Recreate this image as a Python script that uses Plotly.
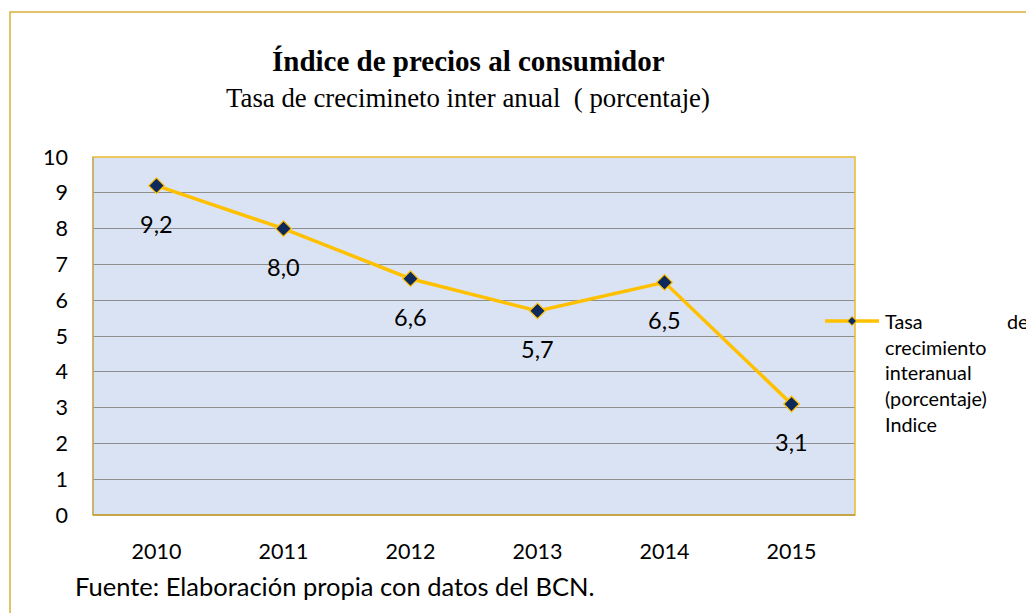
import plotly.graph_objects as go

# ---- data ----
years = ["2010", "2011", "2012", "2013", "2014", "2015"]
rates = [9.2, 8.0, 6.6, 5.7, 6.5, 3.1]
y_ticks = [0, 1, 2, 3, 4, 5, 6, 7, 8, 9, 10]

title_text = "Índice de precios al consumidor"
subtitle_text = "Tasa de crecimineto inter anual\u00a0 ( porcentaje)"
source_text = "Fuente: Elaboración propia con datos del BCN."
legend_lines = ["Tasa", "crecimiento", "interanual", "(porcentaje)", "Indice"]

# ---- layout geometry (screen pixels; page has an 8px body margin) ----
OFF = 8
W, H = 1034 - OFF, 613 - OFF
L, R, T, B = 93 - OFF, 855 - OFF, 157 - OFF, 515 - OFF
pw, ph = R - L, B - T


def xp(px):
    return (px - OFF - L) / pw


def yp(py):
    return (B - (py - OFF)) / ph


GOLD = "#FFC000"
NAVY = "#0E2A5C"
SANS = "Lato"
SERIF = "Liberation Serif"

fig = go.Figure()
fig.add_trace(go.Scatter(
    x=years, y=rates, mode="lines+markers",
    line=dict(color=GOLD, width=3.5),
    marker=dict(symbol="diamond", size=12, color=NAVY,
                line=dict(color=GOLD, width=1.2)),
    showlegend=False, hoverinfo="x+y",
))

annotations = []
# data labels (category index used for x)
for i, v in enumerate(rates):
    annotations.append(dict(
        x=i, y=v, xref="x", yref="y", yshift=-38, showarrow=False,
        text=f"{v:.1f}".replace(".", ","),
        font=dict(family=SANS, size=23.5, color="#000000"),
        xanchor="center", yanchor="middle"))

# titles
annotations.append(dict(x=xp(468), y=yp(61), xref="paper", yref="paper",
                        showarrow=False, text=f"<b>{title_text}</b>",
                        font=dict(family=SERIF, size=29, color="#000000"),
                        xanchor="center", yanchor="middle"))
annotations.append(dict(x=xp(468), y=yp(98), xref="paper", yref="paper",
                        showarrow=False, text=subtitle_text,
                        font=dict(family=SERIF, size=26.8, color="#000000"),
                        xanchor="center", yanchor="middle"))
# source
annotations.append(dict(x=xp(73), y=yp(586), xref="paper", yref="paper",
                        showarrow=False, text=source_text,
                        font=dict(family=SANS, size=25.5, color="#000000"),
                        xanchor="left", yanchor="middle"))
# legend text
leg_y0, leg_dy = 321, 25.7
for i, t in enumerate(legend_lines):
    annotations.append(dict(x=xp(883), y=yp(leg_y0 + i * leg_dy),
                            xref="paper", yref="paper", showarrow=False,
                            text=t, font=dict(family=SANS, size=19.8, color="#000000"),
                            xanchor="left", yanchor="middle"))
annotations.append(dict(x=xp(1031), y=yp(leg_y0), xref="paper", yref="paper",
                        showarrow=False, text="de",
                        font=dict(family=SANS, size=19.8, color="#000000"),
                        xanchor="right", yanchor="middle"))

# diamond path for legend marker
cx, cy, r = 852, 321, 4.5
diamond = "M {} {} L {} {} L {} {} L {} {} Z".format(
    xp(cx), yp(cy - r), xp(cx + r), yp(cy), xp(cx), yp(cy + r), xp(cx - r), yp(cy))

shapes = [
    # outer chart border
    dict(type="rect", xref="paper", yref="paper",
         x0=xp(10), y0=yp(12), x1=xp(1045), y1=yp(630),
         line=dict(color="#D9AE3A", width=1.5), layer="below"),
    # plot area border
    dict(type="rect", xref="paper", yref="paper", x0=0, y0=0, x1=1, y1=1,
         line=dict(color="#EDB92E", width=1.5)),
    dict(type="line", xref="paper", yref="paper", x0=0, y0=0, x1=0, y1=1,
         line=dict(color="#A8A080", width=1)),
    dict(type="line", xref="paper", yref="paper", x0=0, y0=0, x1=1, y1=0,
         line=dict(color="#B89A40", width=1.5)),
    # legend line sample
    dict(type="line", xref="paper", yref="paper",
         x0=xp(825), y0=yp(cy), x1=xp(879), y1=yp(cy),
         line=dict(color=GOLD, width=3.5)),
    dict(type="path", xref="paper", yref="paper", path=diamond,
         fillcolor=NAVY, line=dict(color=GOLD, width=1)),
]

fig.update_layout(
    width=W, height=H,
    margin=dict(l=L, r=W - R, t=T, b=H - B, pad=0),
    paper_bgcolor="#FFFFFF", plot_bgcolor="#DAE3F3",
    showlegend=False,
    annotations=annotations, shapes=shapes,
    xaxis=dict(type="category", range=[-0.5, len(years) - 0.5],
               showgrid=False, zeroline=False, showline=False,
               ticks="", ticklabelstandoff=21,
               tickfont=dict(family=SANS, size=21.5, color="#000000")),
    yaxis=dict(range=[0, 10], tickvals=y_ticks, ticktext=[str(v) for v in y_ticks],
               showgrid=True, gridcolor="#8E8E8E", gridwidth=1,
               zeroline=False, showline=False, ticks="", ticklabelstandoff=24,
               tickfont=dict(family=SANS, size=21.5, color="#000000")),
)

fig.write_html("out.html")
